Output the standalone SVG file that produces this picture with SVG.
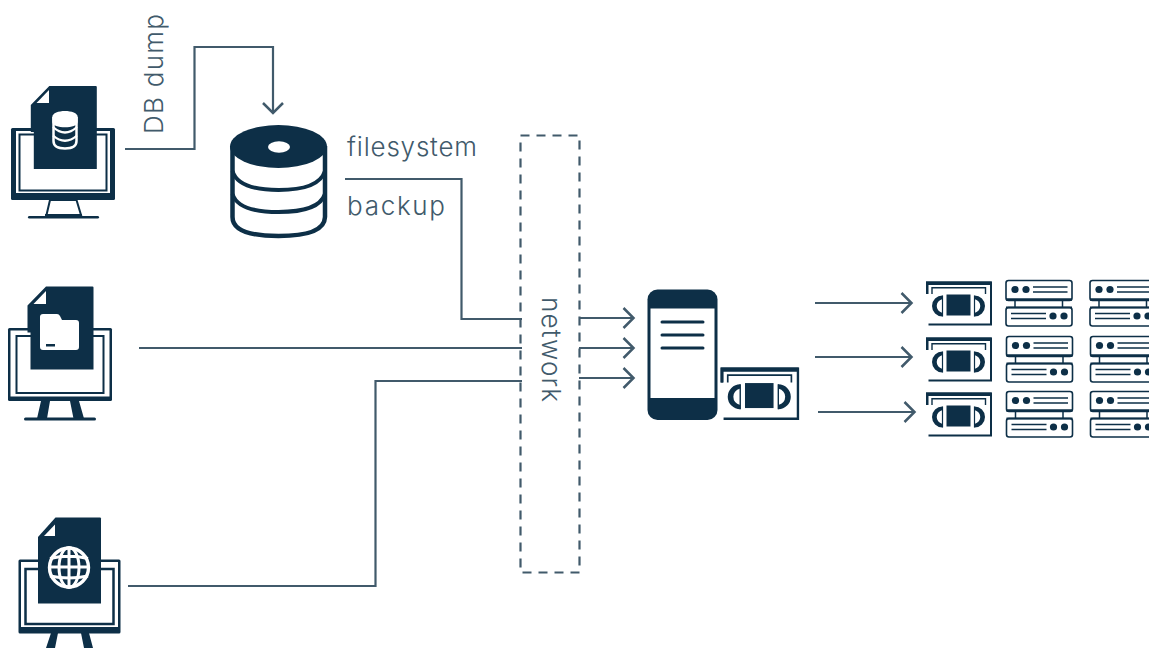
<svg xmlns="http://www.w3.org/2000/svg" xmlns:xlink="http://www.w3.org/1999/xlink" width="1149" height="648" viewBox="0 0 1149 648">
<style>
.d{fill:#0d2f47}
.w{fill:#fff}
.ds{fill:none;stroke:#0d2f47}
.c{fill:none;stroke:#415a6b;stroke-width:2.200}
.a{fill:none;stroke:#415a6b;stroke-width:2.500}
.t{font-family:"Inter","Lato",sans-serif;font-weight:300;font-size:26px;fill:#415a6b}
.ws{fill:none;stroke:#fff}
</style>
<defs>
<marker id="ah" markerUnits="userSpaceOnUse" markerWidth="24" markerHeight="24" refX="20" refY="12" orient="auto"><path d="M10 2L20 12L10 22" class="a"/></marker>
<g id="tape">
<path d="M1.500 13V1.500H65.500V43.500H3" class="ds" stroke-width="2"/>
<path d="M0.500 0.500H66V4H3V13H0.500Z" class="d"/>
<path d="M6.500 13V6.800H60V13" class="ds" stroke-width="1.400"/>
<rect x="21" y="13.500" width="24" height="21" class="d"/>
<path d="M17 14.500A10.500 10.500 0 0 0 17 35.500L17 32A9 7.500 0 0 1 17 18Z" class="d"/>
<path d="M17 14.500V35.500" class="ds" stroke-width="1.200"/>
<path d="M49 14.500A10.500 10.500 0 0 1 49 35.500L49 32A9 7.500 0 0 0 49 18Z" class="d"/>
<path d="M49 14.500V35.500" class="ds" stroke-width="1.200"/>
</g>
<g id="server">
<rect x="1" y="1" width="66" height="20" rx="2.500" class="ds" stroke-width="1.600"/>
<path d="M1 20H67" class="ds" stroke-width="2.400"/>
<rect x="1" y="28" width="66" height="18.500" rx="2.500" class="ds" stroke-width="1.600"/>
<path d="M1 28H67" class="ds" stroke-width="2"/>
<path d="M10 21V28M57.500 21V28" class="ds" stroke-width="1.500"/>
<circle cx="10" cy="10" r="3.600" class="d"/><circle cx="21" cy="10" r="3.600" class="d"/>
<path d="M28 7.500H62.500M28 12.500H62.500" class="ds" stroke-width="1.300"/>
<circle cx="48" cy="36.500" r="3.600" class="d"/><circle cx="59" cy="36.500" r="3.600" class="d"/>
<path d="M6 34H41M6 39H41" class="ds" stroke-width="1.300"/>
</g>
<g id="rack">
<use xlink:href="#server" href="#server" x="0"/>
<use xlink:href="#server" href="#server" x="84"/>
</g>
<path id="doc" d="M19 0H65.500Q66.500 0 66.500 1V83H3.500V46H0.500V19Z"/>
</defs>

<g id="connectors">
<path class="c" d="M125 149H194.500V47H273V113" marker-end="url(#ah)"/>
<path class="c" d="M345 179H461.500V319H522"/>
<path class="c" d="M139 348H522"/>
<path class="c" d="M128 586H375.500V381H522"/>
<path class="c" d="M579 318H633.500" marker-end="url(#ah)"/>
<path class="c" d="M579 348H633.500" marker-end="url(#ah)"/>
<path class="c" d="M579 378H633.500" marker-end="url(#ah)"/>
<path class="c" d="M815 303H911.500" marker-end="url(#ah)"/>
<path class="c" d="M815 357H911.500" marker-end="url(#ah)"/>
<path class="c" d="M818 412H914.500" marker-end="url(#ah)"/>
</g>

<g id="network">
<rect x="520.500" y="135.500" width="59" height="437" fill="none" stroke="#415a6b" stroke-width="2.200" stroke-dasharray="9 7"/>
<text class="t" transform="translate(542 297) rotate(90)" textLength="105">network</text>
</g>

<g id="label-dbdump"><text class="t" transform="translate(163 134) rotate(-90)" textLength="120">DB dump</text></g>
<g id="label-filesystem"><text class="t" x="347" y="156" textLength="130">filesystem</text></g>
<g id="label-backup"><text class="t" x="347" y="215" textLength="98">backup</text></g>

<g id="node-db-host">
<rect x="11" y="128" width="104" height="72" rx="1.500" class="d"/>
<rect x="16" y="131" width="94" height="62" class="w"/>
<rect x="19.500" y="134.500" width="87" height="56" class="ds" stroke-width="2"/>
<path d="M50 200L46.500 215H81L76.500 200Z" class="w" stroke="#0d2f47" stroke-width="2"/>
<rect x="45" y="214" width="37" height="3" class="d"/>
<rect x="28" y="216" width="71" height="2.500" rx="1.200" class="d"/>
<use xlink:href="#doc" href="#doc" x="30.300" y="86" class="d"/>
<path d="M36.500 103L49 90V103Z" class="w"/>
<path d="M53.500 117V141Q53.500 148.500 65 148.500T76.500 141V117" fill="none" stroke="#fff" stroke-width="2.500"/>
<path d="M52.300 117C52.300 109 77.700 109 77.700 117V122C77.700 129 52.300 129 52.300 122Z" class="w"/>
<path d="M53 127Q65 138 77 127M53 135.500Q65 146 77 135.500" fill="none" stroke="#fff" stroke-width="2.200"/>
</g>

<g id="node-file-host">
<rect x="8" y="328" width="104" height="73" rx="1.500" class="d"/>
<rect x="10.500" y="330.500" width="99" height="66" class="w"/>
<rect x="16.500" y="336" width="87" height="57" class="ds" stroke-width="2"/>
<path d="M41 401L37 418.500H47L50 401ZM70 401L73.500 418.500H84L79 401Z" class="d"/>
<rect x="24" y="417.500" width="72" height="3" rx="1.500" class="d"/>
<use xlink:href="#doc" href="#doc" x="27" y="286.500" class="d"/>
<path d="M33.500 304L46 291V304Z" class="w"/>
<path d="M43 314H57Q59 314 60 316L62 320H76Q79 320 79 323V347Q79 350 76 350H43Q40 350 40 347V317Q40 314 43 314Z" class="w"/>
<rect x="46" y="344" width="9" height="2.500" class="d"/>
</g>

<g id="node-web-host">
<rect x="18.500" y="559.500" width="102" height="74" rx="1.500" class="d"/>
<rect x="21" y="562" width="97" height="65" class="w"/>
<rect x="25.500" y="569" width="88" height="55" class="ds" stroke-width="2.500"/>
<path d="M51 633L46 648H55L58 633ZM81 633L84 648H93L89 633Z" class="d"/>
<path d="M55.500 517.500H100Q101 517.500 101 518.500V603.500H38V537Z" class="d"/>
<path d="M44 536L55 524.500V536Z" class="w"/>
<circle cx="69" cy="567.500" r="19.500" class="d" stroke="#fff" stroke-width="3.400"/>
<path d="M50 558.500Q69 554 88 558.500M49 567H89M50 576Q69 580 88 576M69 547V588" class="ws" stroke-width="3"/>
<ellipse cx="69" cy="567.500" rx="10" ry="20" class="ws" stroke-width="3"/>
</g>

<g id="node-filesystem">
<path d="M232.500 146V217Q232.500 236 278.500 236T325 217V146" fill="#fff" stroke="#0d2f47" stroke-width="4.500"/>
<ellipse cx="278.500" cy="146.500" rx="48.500" ry="21.500" class="d"/>
<ellipse cx="279" cy="147" rx="11" ry="5.800" class="w"/>
<path d="M232.500 171Q238 190 278.500 190T325 171M232.500 194Q238 212 278.500 212T325 194" fill="none" stroke="#0d2f47" stroke-width="4"/>
</g>

<g id="node-storage">
<rect x="647.500" y="289.500" width="70" height="130.500" rx="10" class="d"/>
<rect x="650.500" y="308.500" width="64" height="89.500" class="w"/>
<path d="M662 322H703M662 335H703M662 348H703" fill="none" stroke="#0d2f47" stroke-width="3" stroke-linecap="round"/>
</g>
<g id="node-local-tape"><use xlink:href="#tape" href="#tape" transform="translate(720 367) scale(1.190)"/></g>

<g id="node-tape-1"><use xlink:href="#tape" href="#tape" x="925.500" y="281"/></g>
<g id="node-tape-2"><use xlink:href="#tape" href="#tape" x="925.500" y="337"/></g>
<g id="node-tape-3"><use xlink:href="#tape" href="#tape" x="925.500" y="392"/></g>
<g id="node-servers-1"><use xlink:href="#rack" href="#rack" x="1005" y="279.500"/></g>
<g id="node-servers-2"><use xlink:href="#rack" href="#rack" x="1005.500" y="335.500"/></g>
<g id="node-servers-3"><use xlink:href="#rack" href="#rack" x="1005.500" y="390.500"/></g>
</svg>
